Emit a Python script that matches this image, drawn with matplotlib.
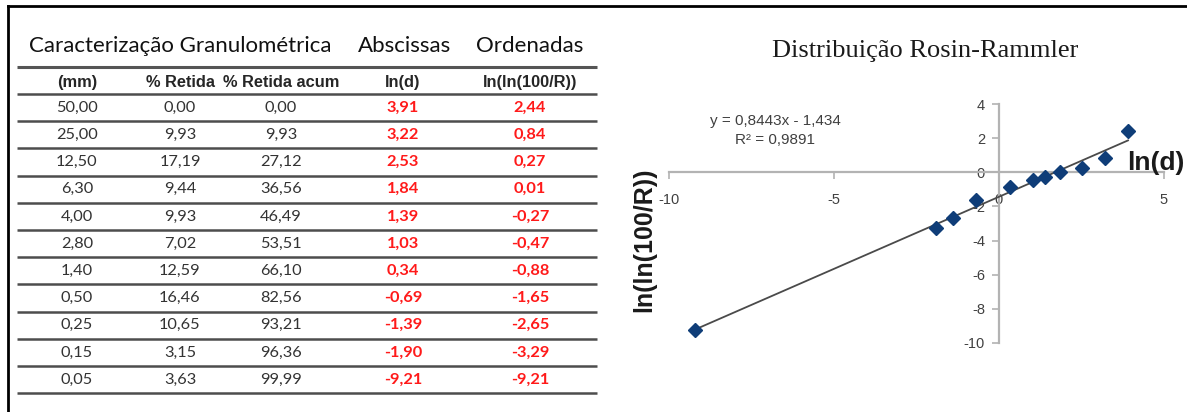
import matplotlib
matplotlib.use("Agg")
import matplotlib.pyplot as plt

# granulometria - peneiras
d_mm = [50.00, 25.00, 12.50, 6.30, 4.00, 2.80, 1.40, 0.50, 0.25, 0.15, 0.05]
retida = [0.00, 9.93, 17.19, 9.44, 9.93, 7.02, 12.59, 16.46, 10.65, 3.15, 3.63]
retida_acum = [0.00, 9.93, 27.12, 36.56, 46.49, 53.51, 66.10, 82.56, 93.21, 96.36, 99.99]
ln_d = [3.91, 3.22, 2.53, 1.84, 1.39, 1.03, 0.34, -0.69, -1.39, -1.90, -9.21]
ln_ln = [2.44, 0.84, 0.27, 0.01, -0.27, -0.47, -0.88, -1.65, -2.65, -3.29, -9.21]

# regressao linear (Excel)
slope = 0.8443
intercept = -1.434
r2 = 0.9891

W, H = 1187, 412

plt.rcParams['axes.unicode_minus'] = False


def br(v, n=2):
    return f"{v:.{n}f}".replace('.', ',')


fig = plt.figure(figsize=(W / 100, H / 100), dpi=100)

# camada em pixels para a tabela e a moldura
bg = fig.add_axes([0, 0, 1, 1])
bg.set_xlim(0, W)
bg.set_ylim(H, 0)
bg.axis('off')

bg.plot([8, 8], [6, H], color='black', lw=2)
bg.plot([8, W], [6, 6], color='black', lw=2)

sans_tab = ['Lato', 'DejaVu Sans']
bg.text(29, 46, "Caracterização Granulométrica", fontsize=16, family=sans_tab,
        color='#111111', ha='left', va='center')
bg.text(405, 46, "Abscissas", fontsize=16, family=sans_tab, color='#111111',
        ha='center', va='center')
bg.text(530, 46, "Ordenadas", fontsize=16, family=sans_tab, color='#111111',
        ha='center', va='center')

col_x = [77, 180, 281, 403, 530]
sub_headers = ["(mm)", "% Retida", "% Retida acum", "ln(d)", "ln(ln(100/R))"]
for cx, s in zip(col_x, sub_headers):
    bg.text(cx, 82, s, fontsize=11.8, family=['Liberation Sans'], weight='bold',
            color='#262626', ha='center', va='center')

line_y0, step = 94.0, 27.2
bg.plot([17, 597], [67, 67], color='#555555', lw=2.2, solid_capstyle='butt')
for i in range(len(d_mm) + 1):
    y = line_y0 + step * i
    bg.plot([17, 597], [y, y], color='#4d4d4d', lw=1.8, solid_capstyle='butt')

for i in range(len(d_mm)):
    y = line_y0 + step * i + step / 2
    cells = [br(d_mm[i]), br(retida[i]), br(retida_acum[i])]
    for cx, s in zip(col_x[:3], cells):
        bg.text(cx, y, s, fontsize=11.8, family=sans_tab, color='#333333',
                ha='center', va='center')
    for cx, v in zip(col_x[3:], [ln_d[i], ln_ln[i]]):
        bg.text(cx, y, br(v), fontsize=11.8, family=sans_tab, weight='bold',
                color='#ff1a1a', ha='center', va='center')

# grafico Rosin-Rammler
ax = fig.add_axes([669 / W, 1 - 343 / H, 495 / W, 239 / H])
ax.set_xlim(-10, 5)
ax.set_ylim(-10, 4)
for side in ['top', 'right']:
    ax.spines[side].set_visible(False)
ax.spines['left'].set_position(('data', 0))
ax.spines['bottom'].set_position(('data', 0))
for side in ['left', 'bottom']:
    ax.spines[side].set_color('#b3b3b3')
    ax.spines[side].set_linewidth(1.6)
ax.set_xticks([-10, -5, 0, 5])
ax.set_yticks([4, 2, 0, -2, -4, -6, -8, -10])
ax.tick_params(axis='both', direction='out', length=5, width=1.2, color='#b3b3b3',
               labelsize=10.5, labelcolor='#404040')
ax.tick_params(axis='x', pad=10)
ax.tick_params(axis='y', pad=5)
for lab in ax.get_xticklabels() + ax.get_yticklabels():
    lab.set_family(['Liberation Sans Narrow', 'Liberation Sans'])
ax.patch.set_alpha(0)

xs = [min(ln_d), max(ln_d)]
ax.plot(xs, [slope * x + intercept for x in xs], color='#4a4a4a', lw=1.3, zorder=3)
ax.plot(ln_d, ln_ln, 'D', color='#0f3d78', markersize=7, zorder=4)

fig.text(925 / W, 1 - 51 / H, "Distribuição Rosin-Rammler", fontsize=19,
         family=['Liberation Serif'], color='#1a1a1a', ha='center', va='center')
fig.text(775 / W, 1 - 121 / H, f"y = {br(slope, 4)}x - {br(-intercept, 3)}",
         fontsize=11, family=['Liberation Sans Narrow', 'Liberation Sans'],
         color='#404040', ha='center', va='center')
fig.text(775 / W, 1 - 140 / H, f"R² = {br(r2, 4)}", fontsize=11,
         family=['Liberation Sans Narrow', 'Liberation Sans'], color='#404040',
         ha='center', va='center')
fig.text(1156 / W, 1 - 163 / H, "ln(d)", fontsize=19, weight='bold',
         family=['Liberation Sans Narrow', 'Liberation Sans'], color='#1a1a1a',
         ha='center', va='center')
fig.text(644 / W, 1 - 240 / H, "ln(ln(100/R))", fontsize=18, weight='bold',
         family=['Liberation Sans'], color='#1a1a1a', rotation=90,
         ha='center', va='center')

fig.savefig("out.png", dpi=100)
